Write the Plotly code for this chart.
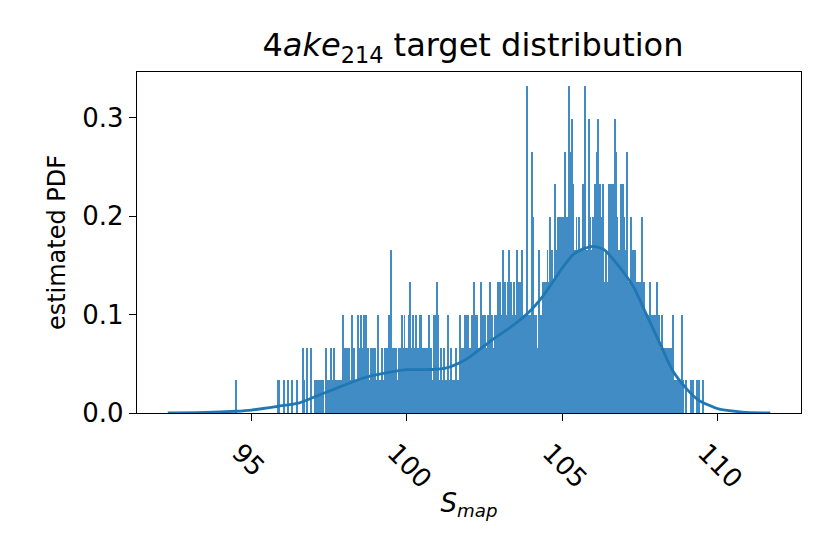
import plotly.graph_objects as go

# ---------------- data ----------------
BIN_START = 94.49          # left edge of first histogram bin
BIN_W = 0.0301             # bin width
PDF_STEP = 0.0332          # height of a one-count bar (estimated PDF units)

# bar counts per bin (10 bins per row)
counts_94_97 = [
    1, 0, 0, 0, 0, 0, 0, 0, 0, 0,
    0, 0, 0, 0, 0, 0, 0, 0, 0, 0,
    0, 0, 0, 0, 0, 0, 0, 0, 0, 0,
    0, 0, 0, 0, 0, 0, 0, 0, 0, 0,
    0, 0, 0, 0, 0, 1, 1, 0, 0, 0,
    0, 1, 0, 0, 0, 1, 0, 0, 0, 0,
    1, 0, 0, 0, 0, 1, 0, 0, 0, 0,
    0, 2, 0, 1, 0, 0, 2, 0, 0, 0,
    2, 0, 0, 0, 1, 1, 1, 0, 0, 1,
    1, 0, 1, 1, 0, 0, 2, 0, 1, 1,
]
counts_97_100 = [
    1, 2, 1, 0, 1, 2, 1, 0, 1, 1,
    1, 0, 1, 1, 3, 1, 2, 1, 2, 2,
    2, 2, 1, 1, 3, 1, 2, 1, 1, 1,
    3, 1, 2, 3, 1, 2, 1, 3, 1, 3,
    1, 2, 1, 0, 2, 2, 2, 1, 2, 1,
    1, 1, 3, 1, 0, 1, 2, 0, 1, 2,
    2, 2, 1, 3, 2, 2, 5, 2, 1, 2,
    1, 2, 1, 1, 2, 2, 2, 3, 2, 2,
    3, 1, 2, 2, 1, 3, 4, 2, 1, 3,
    2, 1, 3, 2, 1, 2, 1, 3, 3, 1,
]
counts_100_103 = [
    2, 1, 2, 0, 2, 1, 3, 1, 2, 1,
    1, 2, 3, 1, 3, 4, 3, 1, 1, 2,
    1, 1, 2, 1, 1, 0, 1, 3, 1, 1,
    2, 1, 1, 0, 1, 2, 1, 1, 1, 3,
    1, 2, 1, 2, 1, 3, 3, 2, 3, 2,
    2, 1, 3, 2, 4, 3, 2, 1, 3, 2,
    2, 2, 4, 3, 3, 2, 3, 2, 2, 3,
    3, 4, 3, 2, 3, 2, 2, 3, 2, 3,
    4, 3, 4, 3, 3, 5, 3, 3, 4, 3,
    3, 4, 5, 3, 4, 3, 2, 4, 3, 3,
]
counts_103_106 = [
    5, 4, 3, 4, 3, 4, 5, 3, 2, 3,
    3, 10, 2, 3, 2, 3, 8, 3, 6, 3,
    2, 3, 1, 2, 5, 2, 3, 2, 4, 3,
    4, 3, 4, 5, 3, 4, 6, 4, 5, 4,
    4, 7, 5, 5, 6, 5, 6, 4, 6, 5,
    6, 5, 8, 5, 6, 4, 10, 8, 5, 9,
    7, 4, 5, 5, 6, 4, 5, 6, 5, 4,
    5, 7, 7, 10, 5, 4, 5, 9, 4, 6,
    5, 4, 6, 5, 7, 5, 8, 9, 6, 7,
    6, 5, 7, 4, 4, 3, 5, 4, 4, 7,
]
counts_106_110 = [
    7, 5, 7, 6, 7, 9, 8, 6, 4, 5,
    5, 4, 7, 5, 7, 6, 4, 5, 8, 4,
    4, 3, 6, 4, 5, 3, 4, 5, 3, 4,
    4, 3, 4, 4, 6, 3, 4, 3, 2, 3,
    3, 2, 3, 4, 2, 3, 2, 3, 2, 3,
    4, 2, 3, 2, 2, 3, 2, 1, 2, 2,
    2, 1, 2, 1, 2, 1, 2, 3, 1, 1,
    1, 1, 1, 0, 1, 1, 1, 3, 1, 0,
    0, 1, 0, 0, 0, 0, 1, 0, 0, 1,
    0, 0, 0, 1, 0, 1, 0, 0, 0, 1,
]

# smooth density curve
kde_x = [92.3, 93.5, 94.5, 95.0, 95.85, 96.5, 97.0, 97.8, 98.6, 99.5, 100.0,
         100.8, 101.25, 101.75, 102.05, 102.8, 103.35, 103.9, 104.4, 104.95,
         105.35, 105.7, 106.0, 106.35, 106.75, 107.3, 107.7, 108.15, 108.55,
         109.0, 109.4, 110.0, 110.8, 111.7]
kde_y = [0.0, 0.0005, 0.0018, 0.003, 0.0068, 0.0100, 0.016, 0.026, 0.0356,
         0.0417, 0.044, 0.0442, 0.0455, 0.0518, 0.0576, 0.0756, 0.0874, 0.1016,
         0.1196, 0.145, 0.161, 0.167, 0.1694, 0.166, 0.152, 0.128, 0.101,
         0.0705, 0.0434, 0.0248, 0.0129, 0.0045, 0.001, 0.0]

x_ticks = [95, 100, 105, 110]
y_ticks = [0.0, 0.1, 0.2, 0.3]

# ---------------- figure ----------------
counts = counts_94_97 + counts_97_100 + counts_100_103 + counts_103_106 + counts_106_110
centers = [BIN_START + (i + 0.5) * BIN_W for i in range(len(counts))]
heights = [c * PDF_STEP for c in counts]

BLUE = "#1f77b4"
BAR_BLUE = "#418cc4"
FONT = "DejaVu Sans"

fig = go.Figure()
fig.add_trace(go.Bar(x=centers, y=heights, width=BIN_W,
                     marker=dict(color=BAR_BLUE, line=dict(width=0)),
                     hoverinfo="skip"))
fig.add_trace(go.Scatter(x=kde_x, y=kde_y, mode="lines",
                         line=dict(color=BLUE, width=2.8, shape="spline", smoothing=0.6)))

axis_common = dict(showline=True, linecolor="black", linewidth=1.3, mirror=True,
                   ticks="outside", ticklen=7, tickwidth=1.3, tickcolor="black",
                   showgrid=False, zeroline=False,
                   tickfont=dict(family=FONT, size=26, color="black"))

W, H = 822, 546   # page body has an 8 px offset inside the 830x554 window

fig.update_layout(
    width=W, height=H,
    margin=dict(l=129, r=29, t=64, b=141),
    paper_bgcolor="white", plot_bgcolor="white",
    showlegend=False, bargap=0,
    font=dict(family=FONT, color="black"),
    title=dict(text="4<i>ake</i><sub>214</sub> target distribution",
               font=dict(family=FONT, size=32, color="black"),
               x=0.506, xref="paper", xanchor="center",
               y=1 - 37 / H, yref="container", yanchor="middle"),
    xaxis=dict(range=[91.31, 112.69], tickvals=x_ticks, tickangle=45,
               ticklabelshift=-12, ticklabelstandoff=6,
               title=dict(text="<i>S</i><sub><i>map</i></sub>",
                          font=dict(family=FONT, size=26, color="black"), standoff=0),
               **axis_common),
    yaxis=dict(range=[0, 0.3465], tickvals=y_ticks, tickformat=".1f",
               title=dict(text="estimated PDF",
                          font=dict(family=FONT, size=24, color="black"), standoff=9),
               **axis_common),
)

fig.write_html("out.html")
